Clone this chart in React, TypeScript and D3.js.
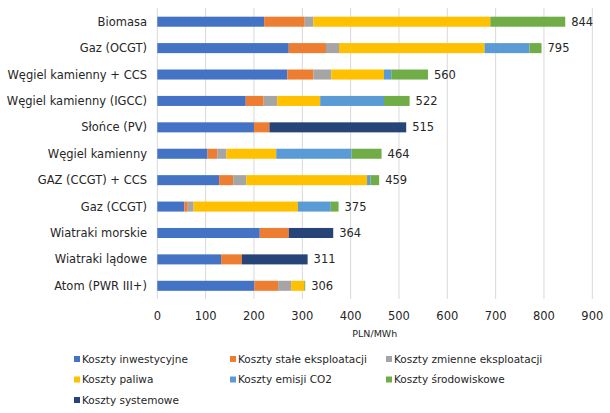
import { useEffect, useRef } from 'react';
import * as d3 from 'd3';

const categories = [
  'Biomasa',
  'Gaz (OCGT)',
  'Węgiel kamienny + CCS',
  'Węgiel kamienny (IGCC)',
  'Słońce (PV)',
  'Węgiel kamienny',
  'GAZ (CCGT) + CCS',
  'Gaz (CCGT)',
  'Wiatraki morskie',
  'Wiatraki lądowe',
  'Atom (PWR III+)',
];

const seriesNames = [
  'Koszty inwestycyjne',
  'Koszty stałe eksploatacji',
  'Koszty zmienne eksploatacji',
  'Koszty paliwa',
  'Koszty emisji CO2',
  'Koszty środowiskowe',
  'Koszty systemowe',
];

// values per category, same order as categories
const inwestycyjne = [221, 272, 269, 183, 200, 104, 128, 56, 212, 132, 201];
const staleEksploatacji = [84, 77, 54, 37, 32, 20, 29, 7, 60, 43, 49];
const zmienneEksploatacji = [18, 27, 37, 28, 0, 19, 27, 12, 0, 0, 27];
const paliwa = [366, 301, 109, 89, 0, 103, 250, 216, 0, 0, 27];
const emisjiCO2 = [0, 93, 15, 132, 0, 156, 7, 68, 0, 0, 0];
const srodowiskowe = [155, 25, 76, 53, 0, 62, 18, 16, 0, 0, 2];
const systemowe = [0, 0, 0, 0, 283, 0, 0, 0, 92, 136, 0];

const totals = [844, 795, 560, 522, 515, 464, 459, 375, 364, 311, 306];
const xTicks = [0, 100, 200, 300, 400, 500, 600, 700, 800, 900];

const colors = ['#4472C4', '#ED7D31', '#A5A5A5', '#FFC000', '#5B9BD5', '#70AD47', '#264478'];

const width = 610;
const height = 413;
const font = '"DejaVu Sans", Verdana, sans-serif';

export default function App() {
  const svgRef = useRef<SVGSVGElement>(null);

  useEffect(() => {
    if (!svgRef.current) return;
    document.body.style.margin = '0';
    const svg = d3.select(svgRef.current);
    svg.selectAll('*').remove();

    const columns = [
      inwestycyjne,
      staleEksploatacji,
      zmienneEksploatacji,
      paliwa,
      emisjiCO2,
      srodowiskowe,
      systemowe,
    ];
    const rows = categories.map((c, i) => {
      const row: { [key: string]: string | number } = { label: c };
      seriesNames.forEach((s, j) => {
        row[s] = columns[j][i];
      });
      return row;
    });

    const x = d3.scaleLinear().domain([0, 900]).range([157.3, 592.3]);
    const y = d3.scaleBand().domain(categories).range([8.5, 299]).paddingInner(0.62).paddingOuter(0.31);
    const color = d3.scaleOrdinal<string>().domain(seriesNames).range(colors);

    // gridlines
    svg
      .append('g')
      .selectAll('line')
      .data(xTicks)
      .enter()
      .append('line')
      .attr('x1', (d) => x(d))
      .attr('x2', (d) => x(d))
      .attr('y1', 8)
      .attr('y2', 299)
      .attr('stroke', '#d9d9d9')
      .attr('stroke-width', 1);

    const series = d3.stack<{ [key: string]: string | number }>().keys(seriesNames)(rows);

    svg
      .append('g')
      .selectAll('g')
      .data(series)
      .enter()
      .append('g')
      .attr('fill', (d) => color(d.key))
      .selectAll('rect')
      .data((d) => d)
      .enter()
      .append('rect')
      .attr('x', (d) => x(d[0]))
      .attr('y', (d) => y(d.data.label as string) || 0)
      .attr('width', (d) => Math.max(0, x(d[1]) - x(d[0])))
      .attr('height', y.bandwidth());

    // total labels
    svg
      .append('g')
      .selectAll('text')
      .data(categories)
      .enter()
      .append('text')
      .attr('x', (_, i) => x(totals[i]) + 6)
      .attr('y', (d) => (y(d) || 0) + y.bandwidth() / 2)
      .attr('dy', '0.35em')
      .attr('font-family', font)
      .attr('font-size', 11.5)
      .attr('fill', '#262626')
      .text((_, i) => totals[i]);

    // category labels
    svg
      .append('g')
      .selectAll('text')
      .data(categories)
      .enter()
      .append('text')
      .attr('x', 147)
      .attr('y', (d) => (y(d) || 0) + y.bandwidth() / 2)
      .attr('dy', '0.35em')
      .attr('text-anchor', 'end')
      .attr('font-family', font)
      .attr('font-size', 11.5)
      .attr('fill', '#262626')
      .text((d) => d);

    // x tick labels
    svg
      .append('g')
      .selectAll('text')
      .data(xTicks)
      .enter()
      .append('text')
      .attr('x', (d) => x(d))
      .attr('y', 316)
      .attr('dy', '0.35em')
      .attr('text-anchor', 'middle')
      .attr('font-family', font)
      .attr('font-size', 11.5)
      .attr('fill', '#262626')
      .text((d) => d);

    svg
      .append('text')
      .attr('x', x(450))
      .attr('y', 334)
      .attr('dy', '0.35em')
      .attr('text-anchor', 'middle')
      .attr('font-family', font)
      .attr('font-size', 9.5)
      .attr('fill', '#262626')
      .text('PLN/MWh');

    // legend
    const legend = svg.append('g');
    seriesNames.forEach((s, i) => {
      const col = i % 3;
      const row = Math.floor(i / 3);
      const g = legend.append('g').attr('transform', `translate(${74 + col * 156}, ${359 + row * 20.5})`);
      g.append('rect').attr('x', 0).attr('y', -3).attr('width', 6).attr('height', 6).attr('fill', color(s));
      g.append('text')
        .attr('x', 8)
        .attr('y', 0)
        .attr('dy', '0.35em')
        .attr('font-family', font)
        .attr('font-size', 10.5)
        .attr('fill', '#262626')
        .text(s);
    });
  }, []);

  return (
    <div style={{ position: 'absolute', left: 0, top: 0 }}>
      <svg ref={svgRef} width={width} height={height} style={{ display: 'block', background: '#fff' }} />
    </div>
  );
}
